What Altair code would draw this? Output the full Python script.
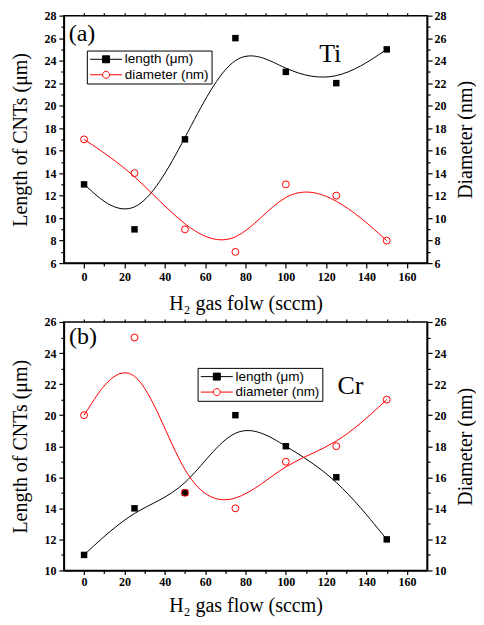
import altair as alt
import pandas as pd

# ---------------- data ----------------
flow = [0, 25, 50, 75, 100, 125, 150]
ti_length = [13, 9, 17, 26, 23, 22, 25]
ti_diameter = [17, 14, 9, 7, 13, 12, 8]
cr_length = [11, 14, 15, 20, 18, 16, 12]
cr_diameter = [20, 25, 15, 14, 17, 18, 21]

series_names = ["length (μm)", "diameter (nm)"]
x_title_a = "H₂ gas folw (sccm)"
x_title_b = "H₂ gas flow (sccm)"
y_left_title = "Length of CNTs (μm)"
y_right_title = "Diameter (nm)"

x_domain = [-10, 170]
x_ticks = list(range(0, 161, 10))
ya_domain = [6, 28]
ya_ticks = list(range(6, 29))
yb_domain = [10, 26]
yb_ticks = list(range(10, 27))

# annotation anchors (data units)
tag_a = {"x": [-1], "y": [26.4], "t": ["(a)"]}
metal_a = {"x": [122], "y": [24.6], "t": ["Ti"]}
tag_b = {"x": [-0.5], "y": [25.0], "t": ["(b)"]}
metal_b = {"x": [132], "y": [21.9], "t": ["Cr"]}

# legend symbols: line + marker
LEN_PATH = "M-3.2,0H3.2M-0.7,-0.7H0.7V0.7H-0.7Z"
DIA_PATH = "M-3.2,0H-0.7M0.7,0H3.2M0.7,0A0.7,0.7 0 1 1 -0.7,0A0.7,0.7 0 1 1 0.7,0Z"

SERIF = "Liberation Serif"
SANS = "Liberation Sans"

AX = dict(labelFont=SERIF, labelFontWeight="bold", labelFontSize=12, labelColor="black",
          titleFont=SERIF, titleFontWeight="normal", titleFontSize=20, titleColor="black",
          domainColor="black", domainWidth=1.5, tickColor="black", tickWidth=1.2,
          grid=False, labelOverlap=False, labelFlush=False)


def cond(step, big, small):
    return {"condition": {"test": f"datum.value % {step} === 0", "value": big}, "value": small}


def panel(length, diameter, ydom, yvals, xtitle, xlay, height, tag, metal, legend_xy):
    tick_big, lab_pad, title_pad = xlay
    df = pd.DataFrame({"flow": flow, "length": length, "diameter": diameter})
    xscale = alt.Scale(domain=x_domain, nice=False, zero=False)
    yscale_l = alt.Scale(domain=ydom, nice=False, zero=False)
    yscale_r = alt.Scale(domain=ydom, nice=False, zero=False)

    x_bottom = alt.X(
        "flow:Q", scale=xscale,
        axis=alt.Axis(title=xtitle, values=x_ticks,
                      labelExpr="datum.value % 20 === 0 ? datum.label : ''",
                      tickSize=cond(20, tick_big, 3), labelPadding=lab_pad,
                      titlePadding=title_pad, **AX),
    )
    x_top = alt.X(
        "flow:Q", scale=xscale,
        axis=alt.Axis(orient="top", values=x_ticks, labels=False, title=None,
                      tickSize=3, domain=False, tickColor="black", tickWidth=1.2, grid=False),
    )
    y_left = alt.Y(
        "length:Q", scale=yscale_l,
        axis=alt.Axis(title=y_left_title, orient="left", values=yvals,
                      labelExpr="datum.value % 2 === 0 ? datum.label : ''",
                      tickSize=cond(2, 5, 3), labelPadding=3, titlePadding=13, **AX),
    )
    y_right = alt.Y(
        "diameter:Q", scale=yscale_r,
        axis=alt.Axis(title=y_right_title, orient="right", values=yvals,
                      labelExpr="datum.value % 2 === 0 ? datum.label : ''",
                      tickSize=cond(2, 5, 3), labelPadding=2, titlePadding=9,
                      titleAngle=270, titleBaseline="top", **AX),
    )

    base = alt.Chart(df)
    len_line = base.mark_line(interpolate="basis", color="black", strokeWidth=1).encode(x=x_bottom, y=y_left)
    len_pts = base.mark_point(shape="square", filled=True, color="black", size=42, opacity=1).encode(x=x_bottom, y=y_left)

    tdf = pd.DataFrame(tag).rename(columns={"x": "flow", "y": "length"})
    mdf = pd.DataFrame(metal).rename(columns={"x": "flow", "y": "length"})
    tag_text = alt.Chart(tdf).mark_text(font=SERIF, fontSize=24, color="black").encode(x=x_bottom, y=y_left, text="t:N")
    metal_text = alt.Chart(mdf).mark_text(font=SERIF, fontSize=26, color="black").encode(x=x_bottom, y=y_left, text="t:N")

    leg = alt.Legend(title=None, orient="none", legendX=legend_xy[0], legendY=legend_xy[1],
                     strokeColor="black", padding=2, symbolSize=100, symbolStrokeWidth=1,
                     symbolOpacity=1, symbolOffset=10.5, labelOffset=12, labelFont=SANS,
                     labelFontSize=13.5, labelColor="black", rowPadding=0.5)
    # invisible carrier for the legend (shares the panel's scales)
    ldf = pd.DataFrame({"flow": flow[:2], "length": length[:2], "key": series_names})
    legend_layer = alt.Chart(ldf).mark_point(opacity=0, filled=False).encode(
        x=x_bottom, y=y_left,
        shape=alt.Shape("key:N", scale=alt.Scale(domain=series_names, range=[LEN_PATH, DIA_PATH]), legend=leg),
        stroke=alt.Stroke("key:N", scale=alt.Scale(domain=series_names, range=["black", "red"]), legend=leg),
        fill=alt.Fill("key:N", scale=alt.Scale(domain=series_names, range=["black", "transparent"]), legend=leg),
    )

    dia_line = base.mark_line(interpolate="basis", color="red", strokeWidth=1).encode(x=x_top, y=y_right)
    dia_pts = base.mark_point(shape="circle", filled=False, color="red", size=48, strokeWidth=1, opacity=1).encode(x=x_top, y=y_right)

    left = alt.layer(len_line, len_pts, tag_text, metal_text, legend_layer)
    right = alt.layer(dia_line, dia_pts)
    return (alt.layer(left, right)
            .resolve_scale(y="independent")
            .resolve_axis(x="independent")
            .properties(width=364, height=height))


pa = panel(ti_length, ti_diameter, ya_domain, ya_ticks, x_title_a, (5, 3, 11), 248, tag_a, metal_a, (23, 35))
pb = panel(cr_length, cr_diameter, yb_domain, yb_ticks, x_title_b, (4, 2, 8), 249, tag_b, metal_b, (134, 46))

chart = (
    alt.vconcat(pa, pb, spacing=1)
    .resolve_scale(shape="independent", stroke="independent", fill="independent")
    .properties(padding={"left": 2, "top": 0, "right": 0, "bottom": 0})
    .configure_view(stroke="black", strokeWidth=1.5)
)

chart.save("out.html", embed_options={"renderer": "svg", "actions": False})
